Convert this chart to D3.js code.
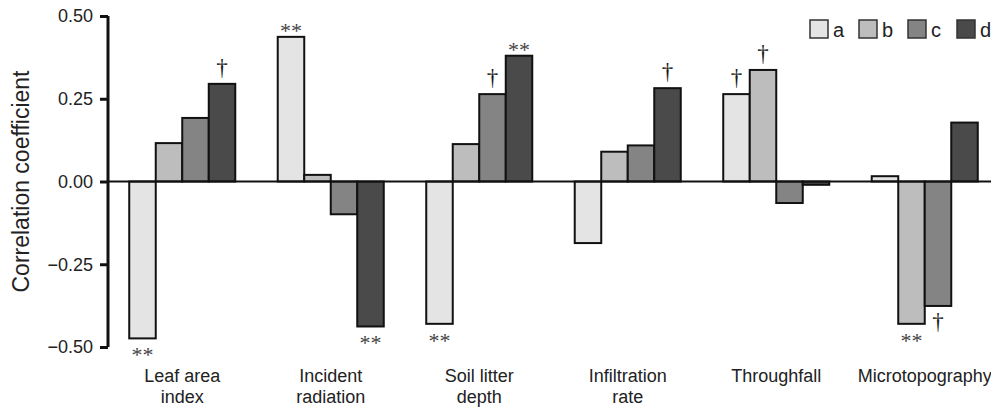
<!DOCTYPE html>
<html>
<head>
<meta charset="utf-8">
<script src="https://cdn.jsdelivr.net/npm/d3@7"></script>
<style>
  html, body { margin: 0; padding: 0; background: #fff; }
  svg { display: block; font-family: "Liberation Sans", Arial, Helvetica, sans-serif; }
</style>
</head>
<body>
<svg id="chart" width="991" height="407"></svg>
<script>
// ---- data ----
const categories = ["Leaf area\nindex", "Incident\nradiation", "Soil litter\ndepth", "Infiltration\nrate", "Throughfall", "Microtopography"];
const seriesNames = ["a", "b", "c", "d"];
const valuesA = [-0.474, 0.437, -0.430, -0.186, 0.264, 0.016];
const valuesB = [0.116, 0.020, 0.113, 0.090, 0.337, -0.430];
const valuesC = [0.192, -0.099, 0.264, 0.109, -0.065, -0.376];
const valuesD = [0.295, -0.438, 0.380, 0.282, -0.010, 0.178];
const yTicks = [-0.5, -0.25, 0, 0.25, 0.5];
const colors = ["#e4e4e4", "#bdbdbd", "#848484", "#4a4a4a"];
// significance marks: [category index, series index, symbol]
const marks = [
  [0, 0, "**"], [0, 3, "\u2020"],
  [1, 0, "**"], [1, 3, "**"],
  [2, 0, "**"], [2, 2, "\u2020"], [2, 3, "**"],
  [3, 3, "\u2020"],
  [4, 0, "\u2020"], [4, 1, "\u2020"],
  [5, 1, "**"], [5, 2, "\u2020"]
];

const allValues = [valuesA, valuesB, valuesC, valuesD];
const rows = categories.map((c, i) => ({ cat: c, vals: seriesNames.map((s, j) => ({ s, v: allValues[j][i], j })) }));

const svg = d3.select("#chart");
const y = d3.scaleLinear().domain([-0.5, 0.5]).range([347, 16]);
const x0 = d3.scaleBand().domain(categories).range([108, 999]).paddingInner(0.286).paddingOuter(0.143);
const x1 = d3.scaleBand().domain(seriesNames).range([0, x0.bandwidth()]).padding(0);

// bars
const g = svg.append("g");
const groups = g.selectAll("g.grp").data(rows).join("g")
  .attr("class", "grp")
  .attr("transform", d => `translate(${x0(d.cat)},0)`);
groups.selectAll("rect").data(d => d.vals).join("rect")
  .attr("x", d => x1(d.s))
  .attr("width", x1.bandwidth())
  .attr("y", d => y(Math.max(0, d.v)))
  .attr("height", d => Math.abs(y(d.v) - y(0)))
  .attr("fill", d => colors[d.j])
  .attr("stroke", "#111")
  .attr("stroke-width", 2);

// zero line
svg.append("line")
  .attr("x1", 108).attr("x2", 991)
  .attr("y1", y(0)).attr("y2", y(0))
  .attr("stroke", "#111").attr("stroke-width", 2);

// y axis
const yAxis = d3.axisLeft(y).tickValues(yTicks).tickSize(8).tickPadding(7)
  .tickFormat(d => d3.format(".2f")(d).replace("-", "\u2212"));
const ya = svg.append("g").attr("transform", "translate(108,0)").call(yAxis);
ya.select(".domain").attr("stroke", "#111").attr("stroke-width", 3).attr("d", `M0,${y(-0.5)}V${y(0.5)}`);
ya.selectAll(".tick line").attr("stroke", "#111").attr("stroke-width", 3);
ya.selectAll(".tick text").attr("font-size", 18).attr("fill", "#222")
  .attr("font-family", '"Liberation Sans", Arial, sans-serif');

// y title
svg.append("text")
  .attr("transform", `translate(29,${y(0)}) rotate(-90)`)
  .attr("text-anchor", "middle")
  .attr("font-size", 23)
  .attr("fill", "#222")
  .text("Correlation coefficient");

// x labels
const xl = svg.append("g");
categories.forEach(c => {
  const lines = c.split("\n");
  const t = xl.append("text")
    .attr("x", x0(c) + x0.bandwidth() / 2)
    .attr("y", 382)
    .attr("text-anchor", "middle")
    .attr("font-size", 18)
    .attr("fill", "#222");
  lines.forEach((ln, i) => {
    t.append("tspan").attr("x", x0(c) + x0.bandwidth() / 2).attr("dy", i === 0 ? 0 : 21).text(ln);
  });
});

// significance marks
const mg = svg.append("g");
marks.forEach(([ci, si, sym]) => {
  const v = allValues[si][ci];
  const cx = x0(categories[ci]) + x1(seriesNames[si]) + x1.bandwidth() / 2;
  const isStar = sym === "**";
  let yy;
  if (v >= 0) {
    yy = isStar ? y(v) + 1.5 : y(v) - 9;
  } else {
    yy = isStar ? y(v) + 24 : y(v) + 23;
  }
  mg.append("text")
    .attr("x", cx).attr("y", yy)
    .attr("text-anchor", "middle")
    .attr("font-family", '"Liberation Serif", "Times New Roman", serif')
    .attr("font-size", isStar ? 22 : 23)
    .attr("fill", isStar ? "#444" : "#1a1a1a")
    .text(sym);
});

// legend
const lg = svg.append("g");
seriesNames.forEach((s, i) => {
  const lx = 810 + i * 49;
  lg.append("rect").attr("x", lx).attr("y", 20).attr("width", 18).attr("height", 18)
    .attr("fill", colors[i]).attr("stroke", "#333").attr("stroke-width", 1.5);
  lg.append("text").attr("x", lx + 23).attr("y", 36.5)
    .attr("font-size", 20).attr("fill", "#222").text(s);
});
</script>
</body>
</html>
